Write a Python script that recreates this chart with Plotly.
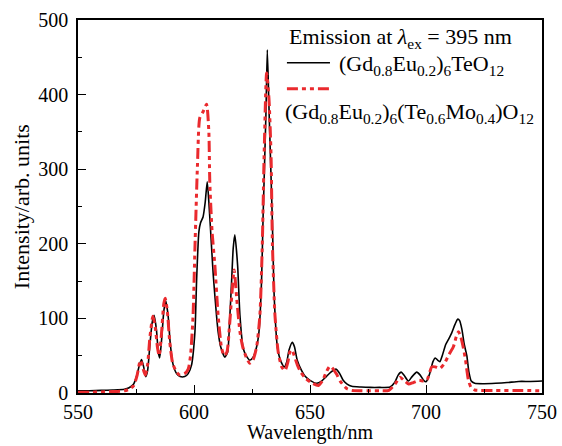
import plotly.graph_objects as go

# Emission spectra under 395 nm excitation
wl_te = [550, 555, 560, 565, 570, 572, 574, 575.5, 576.5, 577.4, 578.3, 579.2, 580, 581, 582,
         582.8, 583.8, 584.6, 585.2, 586, 587, 587.8, 588.8, 589.8, 591, 592.5, 594, 596, 597.5,
         598.9, 600.4, 601.1, 602.1, 602.8, 603.9, 604.8, 605.7, 606.4, 607.6, 608.3, 609.7, 610.4,
         611.5, 613.3, 614.5, 615.4, 616.2, 616.9, 617.6, 618.8, 619.8, 621.2, 622.5, 624, 625.5,
         627, 628, 629.1, 629.8, 631, 631.6, 632.4, 633.7, 634.6, 636, 637.5, 638.9, 640, 641,
         642.4, 643.3, 644.5, 646.4, 648, 650, 652.9, 655, 657, 659, 661.2, 662.8, 664.3, 666,
         668, 672, 676, 680, 684.5, 686.5, 688, 689.3, 690.5, 692.4, 694, 696, 697.5, 699, 700,
         701.5, 703, 704, 705, 706, 707, 708.5, 709.7, 711, 712.5, 713.7, 714.5, 715.5, 716.5,
         717.6, 718.5, 719.5, 721, 725, 730, 735, 740, 745, 750]
int_te = [3, 3, 3.5, 4, 5, 7, 12, 25, 38, 45, 35, 22, 30, 65, 95,
          104, 85, 55, 47, 70, 110, 124, 105, 65, 38, 26, 22, 22, 26,
          37, 82, 149, 216, 228, 236, 255, 283, 256, 194, 158, 104, 82,
          62, 48, 55, 100, 149, 194, 212, 171, 104, 60, 50, 44, 48,
          62, 82, 149, 239, 373, 460, 373, 239, 127, 60, 42, 35, 42, 58,
          68, 62, 44, 30, 22, 17, 13, 16, 22, 28, 32, 26, 17, 12,
          9, 8, 7.5, 7.5, 8, 14, 24, 28, 24, 16, 22, 28, 24, 17, 15,
          25, 42, 47, 44, 42, 50, 65, 72, 80, 92, 99, 97, 85, 65,
          50, 28, 16, 13, 12.5, 13, 14, 15.5, 15.5, 16]

wl_mo = [550, 555, 560, 565, 570, 572, 574, 575.5, 576.5, 577, 578, 579, 580, 581, 582.3,
         583.3, 584.3, 585, 586, 587, 587.6, 588.5, 589.5, 590.8, 592.5, 594, 596, 597.5, 598.5,
         599.6, 600.4, 601.5, 602.5, 603.9, 605.4, 606.4, 606.8, 607.8, 609, 610.4, 611.9, 613,
         614.2, 615.3, 616.2, 617.3, 618.4, 619.8, 621, 622.5, 624, 625.5, 627, 628.4, 629.4,
         630.3, 631.3, 632.3, 633.2, 633.8, 634.9, 636.3, 637.8, 639.2, 640.5, 641.3, 642.1, 643,
         644.5, 646, 648, 650.5, 653.6, 655.5, 657, 658.6, 660, 661.5, 663, 665.8, 668, 672, 680,
         684, 686.7, 688.8, 690.5, 692.5, 694.5, 697, 699, 700.5, 702.5, 704, 706, 708, 710,
         711.8, 713, 714, 715, 716, 717, 718.3, 719.5, 721, 730, 740, 750]
int_mo = [1, 1, 1.5, 2, 3, 5, 10, 24, 40, 44, 33, 24, 38, 75, 103,
          88, 60, 50, 80, 120, 127, 110, 70, 40, 28, 24, 26, 32, 50,
          104, 194, 306, 369, 377, 387, 350, 283, 216, 171, 104, 60, 50,
          55, 90, 127, 165, 127, 82, 62, 48, 40, 45, 62, 104, 194,
          329, 429, 395, 320, 200, 104, 55, 35, 30, 42, 55, 58, 52,
          38, 28, 20, 14, 10, 17, 28, 36, 32, 25, 16, 6, 3.5, 3, 3,
          3.5, 12, 21, 17, 12, 14, 17, 16, 18, 35, 35, 33, 40, 52,
          62, 75, 82, 75, 62, 45, 17, 7, 4, 3.5, 3.5, 3]

x_ticks = [550, 600, 650, 700, 750]
y_ticks = [0, 100, 200, 300, 400, 500]

FONT = "Liberation Serif"
RED = "#EA2A2E"
RED_DASH = "11px,4px,4px,4px,4px,4px"

fig = go.Figure()
fig.add_trace(go.Scatter(x=wl_te, y=int_te, mode="lines",
                         line=dict(color="black", width=1.6, shape="spline", smoothing=0.6),
                         showlegend=False))
fig.add_trace(go.Scatter(x=wl_mo, y=int_mo, mode="lines",
                         line=dict(color=RED, width=3, shape="spline", smoothing=0.6, dash=RED_DASH),
                         showlegend=False))

# hand-built key in the upper right corner (positions in px of the plot area)
L = 78.3
W = 463.5
B = 392.7
H = 372.3


def px(x):
    return (x - L) / W


def py(y):
    return (B - y) / H


shapes = [
    dict(type="line", xref="paper", yref="paper", x0=px(287), x1=px(330), y0=py(63), y1=py(63),
         line=dict(color="black", width=1.6)),
    dict(type="line", xref="paper", yref="paper", x0=px(287), x1=px(332), y0=py(89), y1=py(89),
         line=dict(color=RED, width=3, dash=RED_DASH)),
]
annotations = [
    dict(text="Emission at <i>λ</i><sub>ex</sub> = 395 nm", x=px(287), y=py(38),
         xanchor="left", yanchor="middle"),
    dict(text="(Gd<sub>0.8</sub>Eu<sub>0.2</sub>)<sub>6</sub>TeO<sub>12</sub>", x=px(337), y=py(65),
         xanchor="left", yanchor="middle"),
    dict(text="(Gd<sub>0.8</sub>Eu<sub>0.2</sub>)<sub>6</sub>(Te<sub>0.6</sub>Mo<sub>0.4</sub>)O<sub>12</sub>",
         x=px(283), y=py(113), xanchor="left", yanchor="middle"),
    # axis titles
    dict(text="Wavelength/nm", x=0.5, y=py(446), xanchor="center", yanchor="bottom",
         font_size=20),
    dict(text="Intensity/arb. units", x=px(22), y=0.5, xanchor="center", yanchor="middle",
         textangle=-90, font_size=22),
]
for a in annotations:
    a.update(xref="paper", yref="paper", showarrow=False)
    a["font"] = dict(family=FONT, size=a.pop("font_size", 22), color="black")

fig.update_layout(
    width=562, height=446,
    margin=dict(l=78, r=20, t=20, b=53),
    paper_bgcolor="white", plot_bgcolor="white",
    font=dict(family=FONT, size=20, color="black"),
    shapes=shapes, annotations=annotations,
)
fig.update_xaxes(
    range=[550, 750], tickvals=x_ticks, ticks="inside", ticklen=8, tickwidth=1.3,
    tickcolor="black", minor=dict(dtick=25, ticks="inside", ticklen=4, tickwidth=1.3, tickcolor="black"),
    showline=True, linecolor="black", linewidth=1.6, mirror=True, showgrid=False, zeroline=False,
    automargin=False, ticklabelstandoff=0,
    tickfont=dict(family=FONT, size=20),
)
fig.update_yaxes(
    range=[0, 500], tickvals=y_ticks, ticks="inside", ticklen=8, tickwidth=1.3,
    tickcolor="black", minor=dict(dtick=50, ticks="inside", ticklen=4, tickwidth=1.3, tickcolor="black"),
    showline=True, linecolor="black", linewidth=1.6, mirror=True, showgrid=False, zeroline=False,
    automargin=False, ticklabelstandoff=4,
    tickfont=dict(family=FONT, size=20),
)

fig.write_html("out.html")
